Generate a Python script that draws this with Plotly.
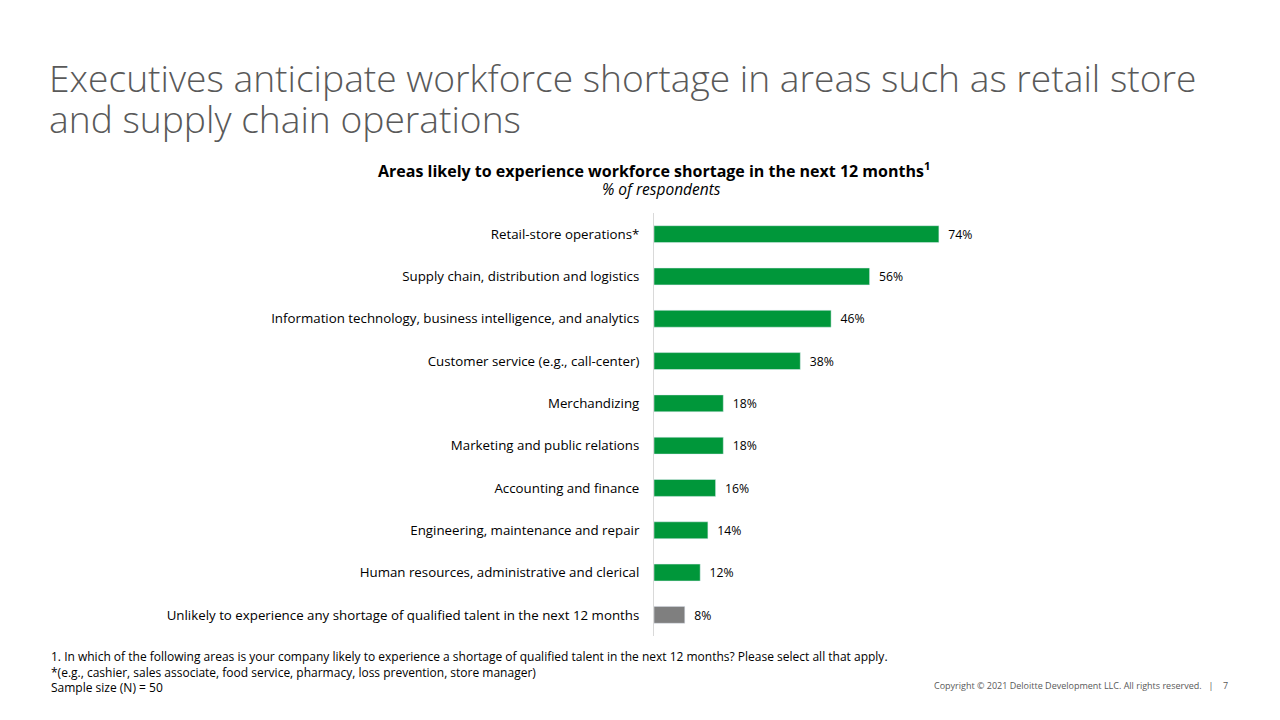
import plotly.graph_objects as go

categories = ["Retail-store operations*", "Supply chain, distribution and logistics",
    "Information technology, business intelligence, and analytics",
    "Customer service (e.g., call-center)", "Merchandizing", "Marketing and public relations",
    "Accounting and finance", "Engineering, maintenance and repair",
    "Human resources, administrative and clerical",
    "Unlikely to experience any shortage of qualified talent in the next 12 months"]
values = [74, 56, 46, 38, 18, 18, 16, 14, 12, 8]
colors = ["#00973A"] * 9 + ["#7F7F7F"]

F = "Open Sans"
O = 8  # page offset
def px(x): return (x - O) / 1280
def py(y): return 1 - (y - O) / 720

fig = go.Figure(go.Bar(
    y=categories, x=values, orientation="h", marker_color=colors,
    text=[f"\u00a0\u00a0{v}%" for v in values], textposition="outside", cliponaxis=False,
    textfont=dict(family=F, size=13, color="#000"), width=0.4))

fig.update_layout(
    width=1280, height=720, margin=dict(l=0, r=0, t=0, b=0),
    plot_bgcolor="white", paper_bgcolor="white", showlegend=False,
    font=dict(family=F, size=13, color="#000"),
    xaxis=dict(domain=[px(654), px(1039)], range=[0, 100], visible=False),
    yaxis=dict(domain=[py(636), py(213)], autorange="reversed",
               showline=True, linecolor="#D9D9D9", linewidth=1,
               ticks="", ticklabelstandoff=11, tickfont=dict(family=F, size=13.3)),
)

TF = dict(family=F, size=37.2, color="#595959", weight=300)
ann = [
    dict(x=px(47), y=py(78), text="Executives anticipate workforce shortage in areas such as retail store",
         font=TF, xanchor="left", yanchor="middle"),
    dict(x=px(47), y=py(118), text="and supply chain operations",
         font=TF, xanchor="left", yanchor="middle"),
    dict(x=px(654), y=py(170), text="<b>Areas likely to experience workforce shortage in the next 12 months<sup>1</sup></b>",
         font=dict(family=F, size=16), xanchor="center", yanchor="middle"),
    dict(x=px(661), y=py(189), text="<i>% of respondents</i>",
         font=dict(family=F, size=15.5), xanchor="center", yanchor="middle"),
    dict(x=px(49), y=py(646), text="1. In which of the following areas is your company likely to experience a shortage of qualified talent in the next 12 months? Please select all that apply.<br>*(e.g., cashier, sales associate, food service, pharmacy, loss prevention, store manager)<br>Sample size (N) = 50",
         font=dict(family=F, size=12), align="left", xanchor="left", yanchor="top"),
    dict(x=px(1230), y=py(685), text="Copyright © 2021 Deloitte Development LLC. All rights reserved.   |    7",
         font=dict(family=F, size=9, color="#595959"), xanchor="right", yanchor="middle"),
]
for a in ann:
    a.update(xref="paper", yref="paper", showarrow=False)
fig.update_layout(annotations=ann)
fig.write_html("out.html")
